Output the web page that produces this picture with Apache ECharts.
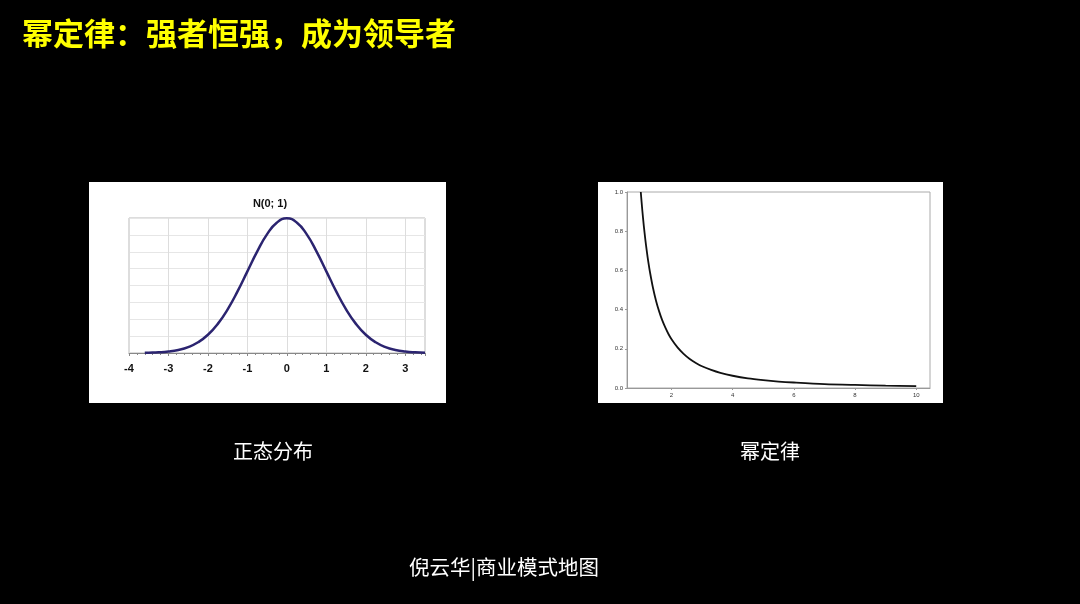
<!DOCTYPE html>
<html><head><meta charset="utf-8">
<script src="https://cdn.jsdelivr.net/npm/echarts@6/dist/echarts.min.js"></script>
<style>html,body{margin:0;background:#000}#c{width:1080px;height:604px}</style>
</head><body><div id="c"></div>
<script>
const normalX = [-3.6,-3.5,-3.25,-3,-2.75,-2.5,-2.25,-2,-1.75,-1.5,-1.25,-1,-0.75,-0.5,-0.25,0,0.25,0.5,0.75,1,1.25,1.5,1.75,2,2.25,2.5,2.75,3,3.25,3.5];
const normalY = [0.0006,0.0009,0.002,0.0044,0.0091,0.0175,0.0317,0.054,0.0863,0.1295,0.1826,0.242,0.3011,0.3521,0.3867,0.3989,0.3867,0.3521,0.3011,0.242,0.1826,0.1295,0.0863,0.054,0.0317,0.0175,0.0091,0.0044,0.002,0.0009];
const powerX = [1,1.05,1.1,1.15,1.2,1.25,1.3,1.4,1.5,1.6,1.7,1.8,1.9,2,2.2,2.4,2.6,2.8,3,3.3,3.6,4,4.5,5,5.5,6,7,8,9,10];
const powerY = [1,0.907,0.826,0.756,0.694,0.64,0.592,0.51,0.444,0.391,0.346,0.309,0.277,0.25,0.207,0.174,0.148,0.128,0.111,0.092,0.077,0.0625,0.049,0.04,0.033,0.028,0.02,0.0156,0.0123,0.01];
const powerTicks = [2,4,6,8,10];
const ch = echarts.init(document.getElementById('c'));
const zip = (a,b)=>a.map((v,i)=>[v,b[i]]);
ch.setOption({
  backgroundColor:'#000',
  animation:false,
  graphic:[
    {type:'rect',shape:{x:89,y:182,width:357,height:221},style:{fill:'#fff'},z:-1},
    {type:'rect',shape:{x:598,y:182,width:345,height:221},style:{fill:'#fff'},z:-1},
    {type:'text',left:22,top:18,style:{text:'幂定律：强者恒强，成为领导者',fill:'#ffff00',font:'bold 31px "Noto Sans CJK SC"'}},
    {type:'text',x:273,y:451,style:{text:'正态分布',fill:'#fff',font:'20px "Noto Sans CJK SC"',align:'center',verticalAlign:'middle'}},
    {type:'text',x:770,y:451,style:{text:'幂定律',fill:'#fff',font:'20px "Noto Sans CJK SC"',align:'center',verticalAlign:'middle'}},
    {type:'text',x:504,y:567,style:{text:'倪云华|商业模式地图',fill:'#fff',font:'20.5px "Noto Sans CJK SC"',align:'center',verticalAlign:'middle'}},
    {type:'text',x:270,y:204,style:{text:'N(0; 1)',fill:'#111',font:'bold 11px Arial',align:'center',verticalAlign:'middle'}}
  ],
  grid:[
    {left:129,top:218,width:296,height:135,show:true,borderColor:'#bbb',borderWidth:1,backgroundColor:'transparent'},
    {left:627,top:192,width:303,height:196,show:true,borderColor:'#aaa',borderWidth:1,backgroundColor:'transparent'}
  ],
  xAxis:[
    {gridIndex:0,type:'value',min:-4,max:3.5,interval:1,axisLine:{onZero:false,lineStyle:{color:'#888'}},
     axisTick:{show:true,length:3,lineStyle:{color:'#888'}},minorTick:{show:true,splitNumber:5,length:2},
     splitLine:{show:true,lineStyle:{color:'#ddd'}},
     axisLabel:{color:'#111',fontWeight:'bold',fontSize:11,margin:10,showMaxLabel:false}},
    {gridIndex:1,type:'value',min:0.55,max:10.45,axisLine:{onZero:false,lineStyle:{color:'#999'}},
     axisTick:{show:true,length:2,customValues:powerTicks},splitLine:{show:false},
     axisLabel:{color:'#333',fontSize:6,margin:4,customValues:powerTicks}}
  ],
  yAxis:[
    {gridIndex:0,type:'value',min:0,max:0.4,interval:0.05,axisLabel:{show:false},axisLine:{show:false},axisTick:{show:false},
     splitLine:{lineStyle:{color:'#e6e6e6'}}},
    {gridIndex:1,type:'value',min:0,max:1,interval:0.2,axisLine:{show:true,lineStyle:{color:'#999'}},axisTick:{show:true,length:2},
     splitLine:{show:false},axisLabel:{color:'#333',fontSize:6,margin:4,formatter:v=>v.toFixed(1)}}
  ],
  series:[
    {type:'line',xAxisIndex:0,yAxisIndex:0,data:zip(normalX,normalY),smooth:true,showSymbol:false,lineStyle:{color:'#2b2470',width:2.5}},
    {type:'line',xAxisIndex:1,yAxisIndex:1,data:zip(powerX,powerY),smooth:0.3,showSymbol:false,lineStyle:{color:'#111',width:1.8}}
  ]
});
</script></body></html>
